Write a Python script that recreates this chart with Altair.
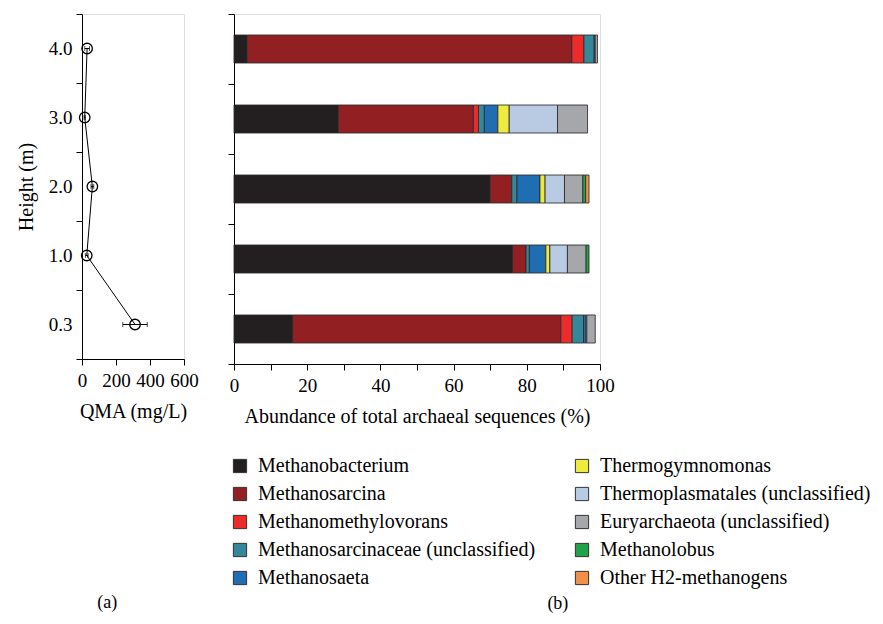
import altair as alt
import pandas as pd

heights = ["4.0", "3.0", "2.0", "1.0", "0.3"]
qma = [30, 16, 61, 28, 312]
qma_err = [14, 4, 8, 8, 72]

taxa = [
    "Methanobacterium",
    "Methanosarcina",
    "Methanomethylovorans",
    "Methanosarcinaceae (unclassified)",
    "Methanosaeta",
    "Thermogymnomonas",
    "Thermoplasmatales (unclassified)",
    "Euryarchaeota (unclassified)",
    "Methanolobus",
    "Other H2-methanogens",
]
colors = ["#231f20", "#922022", "#ed2b2a", "#35879a", "#1f6eb4",
          "#eeea3e", "#b8cbe3", "#a6a7aa", "#23a04a", "#f0904a"]

# abundance (%) per taxon, heights in order 4.0, 3.0, 2.0, 1.0, 0.3
methanobacterium = [3.6, 28.5, 70.0, 76.1, 16.0]
methanosarcina = [88.7, 36.9, 5.9, 3.7, 73.3]
methanomethylovorans = [3.3, 1.4, 0.0, 0.0, 3.1]
methanosarcinaceae = [2.8, 1.6, 1.4, 0.9, 3.1]
methanosaeta = [0.3, 3.7, 6.3, 4.5, 0.6]
thermogymnomonas = [0.0, 3.1, 1.4, 1.1, 0.0]
thermoplasmatales = [0.0, 13.2, 5.3, 4.8, 0.3]
euryarchaeota = [0.6, 8.2, 5.0, 5.1, 2.3]
methanolobus = [0.0, 0.0, 0.8, 0.8, 0.0]
other_h2 = [0.0, 0.0, 0.9, 0.0, 0.0]
series = [methanobacterium, methanosarcina, methanomethylovorans, methanosarcinaceae,
          methanosaeta, thermogymnomonas, thermoplasmatales, euryarchaeota,
          methanolobus, other_h2]

FONT = "Liberation Serif"
n = len(heights)

rows = []
for ti, (t, vals) in enumerate(zip(taxa, series)):
    for hi, h in enumerate(heights):
        if vals[hi] > 0:
            rows.append(dict(taxon=t, height=h, order=ti, value=vals[hi], pos=n - hi - 0.5))
df_b = pd.DataFrame(rows)

df_a = pd.DataFrame({
    "height": heights,
    "qma": qma,
    "lo": [q - e for q, e in zip(qma, qma_err)],
    "hi": [q + e for q, e in zip(qma, qma_err)],
    "pos": [n - i - 0.5 for i in range(n)],
})

label_expr = "".join(
    f"datum.value == {n - i - 0.5} ? '{h}' : " for i, h in enumerate(heights)
) + "''"

axis_common = dict(domainColor="black", tickColor="black", labelColor="black",
                   titleColor="black", labelFont=FONT, titleFont=FONT,
                   labelFontSize=19, titleFontSize=20, titleFontWeight="normal",
                   grid=False, tickSize=6, domainWidth=1, tickWidth=1)

ya = alt.Axis(values=[i * 0.5 for i in range(2 * n + 1)], labelExpr=label_expr,
              tickOpacity={"condition": {"test": "datum.value % 1 != 0", "value": 0}, "value": 1},
              title="Height (m)", labelPadding=4, titlePadding=12, **axis_common)
ys = alt.Scale(domain=[0, n], nice=False, zero=False)
xa = alt.Axis(values=[0, 200, 400, 600], title="QMA (mg/L)", labelPadding=6,
              titlePadding=11, labelFlush=False, **axis_common)
xs = alt.Scale(domain=[0, 600], nice=False)

base_a = alt.Chart(df_a)
line = base_a.mark_line(color="black", strokeWidth=1).encode(
    x=alt.X("qma:Q", scale=xs, axis=xa),
    y=alt.Y("pos:Q", scale=ys, axis=ya),
    order=alt.Order("pos:Q", sort="descending"),
)
err = base_a.mark_errorbar(ticks=True, color="black").encode(
    x=alt.X("lo:Q", scale=xs, axis=xa),
    x2="hi:Q",
    y=alt.Y("pos:Q", scale=ys, axis=ya),
)
pts = base_a.mark_point(shape="circle", filled=False, size=110, color="black",
                        strokeWidth=1.3, opacity=1).encode(
    x=alt.X("qma:Q", scale=xs, axis=xa),
    y=alt.Y("pos:Q", scale=ys, axis=ya),
)
panel_a = alt.layer(line, err, pts).properties(
    width=102, height=345,
    title=alt.TitleParams("(a)", orient="bottom", offset=173, frame="bounds",
                          anchor="middle", font=FONT, fontSize=18,
                          fontWeight="normal", color="black"),
)

panel_b = alt.Chart(df_b).transform_stack(
    stack="value", groupby=["height"], as_=["start", "end"],
    sort=[alt.SortField("order", "ascending")], offset="zero",
).transform_calculate(
    y0="datum.pos - 0.2", y1="datum.pos + 0.2"
).mark_rect(stroke="#2b2b2b", strokeWidth=1, strokeOpacity=0.85).encode(
    x=alt.X("start:Q", scale=alt.Scale(domain=[0, 100], nice=False),
            axis=alt.Axis(values=list(range(0, 101, 10)),
                          labelExpr="datum.value % 20 == 0 ? datum.label : ''",
                          title="Abundance of total archaeal sequences (%)",
                          labelPadding=6, titlePadding=11, labelFlush=False, **axis_common)),
    x2="end:Q",
    y=alt.Y("y0:Q", scale=alt.Scale(domain=[0, n], nice=False, zero=False),
            axis=alt.Axis(values=list(range(n + 1)), labels=False, title=None,
                          **axis_common)),
    y2="y1:Q",
    color=alt.Color("taxon:N",
                    scale=alt.Scale(domain=taxa, range=colors),
                    legend=alt.Legend(title=None, orient="none", legendX=148, legendY=442,
                                      columns=2, symbolType="square", symbolSize=175,
                                      symbolStrokeColor="#333", symbolStrokeWidth=1,
                                      labelFont=FONT, labelFontSize=20, labelColor="black",
                                      labelLimit=400, rowPadding=8, columnPadding=36,
                                      symbolOffset=0, labelOffset=8)),
).properties(
    width=366, height=350,
    title=alt.TitleParams("(b)", orient="bottom", offset=169, frame="bounds",
                          anchor="middle", dx=137, font=FONT, fontSize=18,
                          fontWeight="normal", color="black"),
)

chart = alt.hconcat(panel_a, panel_b, spacing=28).properties(
    padding={"left": 7, "top": 5, "right": 0, "bottom": 0}
).configure_view(stroke=None).configure(font=FONT)

chart.save("out.html", embed_options={"renderer": "svg", "actions": False})
